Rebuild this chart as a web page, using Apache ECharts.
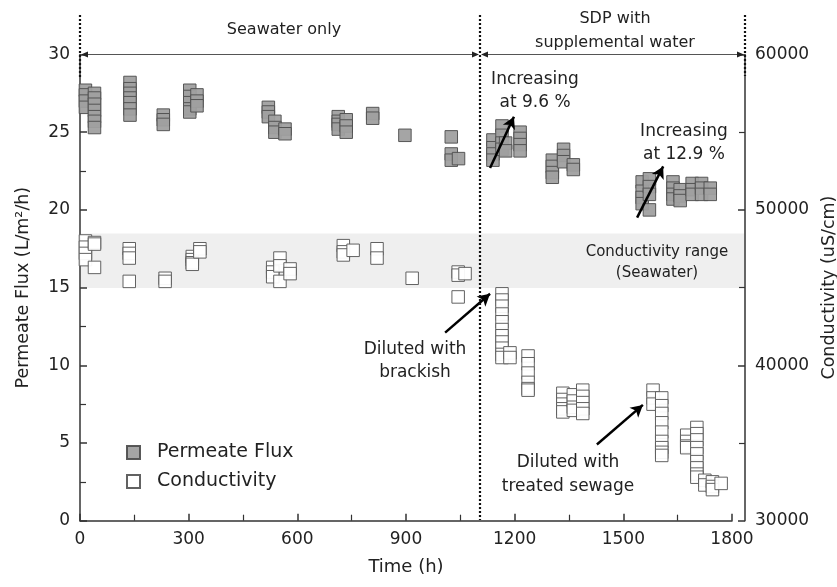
<!DOCTYPE html>
<html>
<head>
    <meta charset="utf-8">
    <title>Permeate flux and conductivity</title>
    <script src="https://cdn.jsdelivr.net/npm/echarts@6/dist/echarts.min.js"></script>
</head>
<body style="margin:0">
<div id="chart" style="width: 837px; height: 587px;"></div>
<script>
    // x axis ticks (h)
    var timeTicks = [0, 300, 600, 900, 1200, 1500, 1800];

    // permeate flux (L/m2/h)
    var fluxTime = [
        15, 15, 15, 15,
        40, 40, 40, 40, 40, 40, 40,
        138, 138, 138, 138, 138, 138, 138,
        230, 230, 230,
        303, 303, 303, 303, 303,
        323, 323, 323,
        520, 520, 520,
        538, 538, 538,
        566, 566,
        713, 713, 713, 713,
        735, 735, 735,
        808, 808,
        897,
        1025, 1025, 1025,
        1045,
        1140, 1140, 1140, 1140,
        1165, 1165, 1165, 1165,
        1175, 1175,
        1215, 1215, 1215, 1215,
        1304, 1304, 1304, 1304,
        1335, 1335, 1335,
        1362, 1362,
        1552, 1552, 1552, 1552,
        1572, 1572, 1572, 1572,
        1637, 1637, 1637, 1637,
        1657, 1657, 1657,
        1690, 1690, 1690,
        1716, 1716, 1716,
        1740, 1740
    ];
    var fluxValue = [
        27.7, 27.4, 27.0, 26.6,
        27.5, 27.2, 26.8, 26.4, 26.0, 25.7, 25.3,
        28.2, 27.8, 27.5, 27.2, 26.9, 26.5, 26.1,
        26.1, 25.8, 25.5,
        27.7, 27.3, 26.9, 26.5, 26.3,
        27.4, 27.0, 26.7,
        26.6, 26.3, 26.0,
        25.7, 25.3, 25.0,
        25.2, 24.9,
        26.0, 25.7, 25.5, 25.2,
        25.8, 25.4, 25.0,
        26.2, 25.9,
        24.8,
        24.7, 23.6, 23.2,
        23.3,
        24.5, 24.0, 23.6, 23.2,
        25.4, 24.8, 24.3, 23.9,
        24.3, 23.8,
        25.0, 24.6, 24.2, 23.8,
        23.2, 22.8, 22.4, 22.1,
        23.9, 23.5, 23.1,
        22.9, 22.6,
        21.8, 21.2, 20.8, 20.4,
        22.0, 21.5, 21.0, 20.0,
        21.8, 21.4, 21.0, 20.7,
        21.3, 20.9, 20.6,
        21.7, 21.3, 21.0,
        21.7, 21.4, 21.0,
        21.4, 21.0
    ];

    // conductivity (uS/cm)
    var condTime = [
        15, 15, 15, 15,
        40, 40, 40,
        136, 136, 136, 136,
        235, 235,
        310, 310, 310, 310,
        331, 331,
        532, 532, 532,
        552, 552, 552,
        580, 580,
        727, 727, 727,
        754,
        820, 820,
        917,
        1044, 1044, 1044,
        1063,
        1165, 1165, 1165, 1165, 1165, 1165, 1165, 1165, 1165, 1165, 1165,
        1187, 1187,
        1237, 1237, 1237, 1237, 1237, 1237,
        1333, 1333, 1333, 1333, 1333,
        1362, 1362, 1362, 1362,
        1388, 1388, 1388, 1388, 1388,
        1582, 1582, 1582,
        1606, 1606, 1606, 1606, 1606, 1606, 1606, 1606, 1606,
        1675, 1675, 1675, 1675,
        1703, 1703, 1703, 1703, 1703, 1703, 1703, 1703, 1703,
        1725, 1725,
        1746, 1746, 1746,
        1770
    ];
    var condValue = [
        48000, 47600, 47200, 46800,
        47900, 47800, 46300,
        47500, 47200, 46900, 45400,
        45600, 45400,
        47000, 46800, 46600, 46500,
        47500, 47300,
        46300, 46000, 45700,
        46900, 46400, 45400,
        46200, 45900,
        47700, 47300, 47100,
        47400,
        47500, 46900,
        45600,
        46000, 45800, 44400,
        45900,
        44600, 44200, 43800, 43300, 42800, 42300, 41900, 41500, 41100, 40700, 40500,
        40800, 40500,
        40600, 40100, 39500, 38900, 38500, 38400,
        38200, 37800, 37500, 37200, 37000,
        38100, 37700, 37300, 37100,
        38400, 38000, 37600, 37200, 36900,
        38400, 37900, 37500,
        37900, 37400, 36900, 36300, 35700, 35100, 34700, 34400, 34200,
        35500, 35100, 34800, 34700,
        36000, 35600, 35200, 34700, 34300, 33800, 33400, 33000, 32800,
        32600, 32300,
        32500, 32200, 32000,
        32400
    ];

    function zip(xs, ys) {
        return xs.map(function (x, i) { return [x, ys[i]]; });
    }

    var font = 'DejaVu Sans';
    var ink = '#222';

    // little helpers for the pixel decorations
    function dotted(x, y1, y2) {
        return {
            type: 'line', z: 10,
            shape: { x1: x, y1: y1, x2: x, y2: y2 },
            style: { stroke: '#111', lineWidth: 2.2, lineDash: [2, 2] }
        };
    }
    function head(x, y, dir) {
        return {
            type: 'polygon', z: 10,
            shape: { points: [[x, y], [x - dir * 7, y - 3], [x - dir * 7, y + 3]] },
            style: { fill: '#222' }
        };
    }
    function label(x, y, text, size) {
        return {
            type: 'text', z: 10, x: x, y: y,
            style: {
                text: text, fill: ink, font: (size || 16) + 'px "' + font + '"',
                align: 'center', verticalAlign: 'middle'
            }
        };
    }
    function plain(v) { return String(v); }

    var tickStyle = { color: '#333', width: 1.5 };

    function yAxisBase(extra) {
        return Object.assign({
            type: 'value',
            nameLocation: 'middle',
            nameTextStyle: { fontSize: 17.5, color: ink },
            axisLine: { show: true, lineStyle: tickStyle },
            axisTick: { inside: true, length: 7, lineStyle: tickStyle },
            minorTick: { show: true, splitNumber: 2, length: 6, lineStyle: { color: '#333', width: 1.2 } },
            axisLabel: { fontSize: 17, color: ink, margin: 10, formatter: plain },
            splitLine: { show: false }
        }, extra);
    }

    var myChart = echarts.init(document.getElementById('chart'));

    var option = {
        animation: false,
        textStyle: { fontFamily: font, color: ink },
        grid: { left: 80, right: 105, top: 54.5, bottom: 66.3, outerBoundsMode: 'none' },
        legend: {
            orient: 'vertical',
            left: 121, top: 438,
            itemWidth: 13, itemHeight: 13, itemGap: 10,
            icon: 'rect',
            textStyle: { fontSize: 19, color: ink, padding: [0, 0, 0, 12] },
            data: ['Permeate Flux', 'Conductivity']
        },
        xAxis: {
            type: 'value',
            min: timeTicks[0], max: timeTicks[timeTicks.length - 1], interval: 300,
            name: 'Time (h)', nameLocation: 'middle', nameGap: 38,
            nameTextStyle: { fontSize: 18, color: ink },
            axisLine: { lineStyle: tickStyle },
            axisTick: { inside: true, length: 7, lineStyle: tickStyle },
            minorTick: { show: true, splitNumber: 2, length: 6, lineStyle: { color: '#333', width: 1.2 } },
            axisLabel: { fontSize: 17, color: ink, margin: 10, formatter: plain },
            splitLine: { show: false }
        },
        yAxis: [
            yAxisBase({ min: 0, max: 30, interval: 5, name: 'Permeate Flux (L/m²/h)', nameGap: 48 }),
            yAxisBase({
                min: 30000, max: 60000, interval: 10000, position: 'right', offset: 13,
                name: 'Conductivity (uS/cm)', nameGap: 62
            })
        ],
        graphic: [
            // seawater conductivity band
            {
                type: 'rect', z: 0, silent: true,
                shape: { x: 81, y: 233.5, width: 663, height: 54.5 },
                style: { fill: '#efefef' }
            },
            dotted(80, 15, 78),
            dotted(480, 15, 520),
            dotted(745, 15, 76),
            { type: 'line', z: 10, shape: { x1: 82, y1: 54.5, x2: 478, y2: 54.5 }, style: { stroke: '#555', lineWidth: 1 } },
            { type: 'line', z: 10, shape: { x1: 482, y1: 54.5, x2: 743, y2: 54.5 }, style: { stroke: '#555', lineWidth: 1 } },
            head(81, 54.5, -1), head(479, 54.5, 1),
            head(481, 54.5, -1), head(744, 54.5, 1),
            label(284, 30, 'Seawater only'),
            label(615, 19, 'SDP with'),
            label(615, 43, 'supplemental water'),
            label(535, 80, 'Increasing', 17),
            label(535, 103, 'at 9.6 %', 17),
            label(684, 132, 'Increasing', 17),
            label(684, 155, 'at 12.9 %', 17),
            label(657, 252, 'Conductivity range', 15),
            label(657, 273, '(Seawater)', 15),
            label(415, 350, 'Diluted with', 17),
            label(415, 373, 'brackish', 17),
            label(568, 463, 'Diluted with', 17),
            label(568, 487, 'treated sewage', 17)
        ],
        series: [{
            name: 'Permeate Flux',
            type: 'scatter',
            yAxisIndex: 0,
            symbol: 'rect', symbolSize: 12.5,
            itemStyle: { color: '#a0a0a0', borderColor: '#505050', borderWidth: 1, opacity: 0.95 },
            data: zip(fluxTime, fluxValue),
            markLine: {
                silent: true, animation: false,
                symbol: ['none', 'arrow'], symbolSize: [10, 12],
                label: { show: false },
                lineStyle: { color: '#000', width: 2.5, type: 'solid' },
                data: [
                    [{ coord: [1132, 22.7] }, { coord: [1198, 26.0] }],
                    [{ coord: [1538, 19.5] }, { coord: [1610, 22.8] }],
                    [{ coord: [1008, 12.1] }, { coord: [1132, 14.6] }],
                    [{ coord: [1427, 4.9] }, { coord: [1554, 7.45] }]
                ]
            }
        }, {
            name: 'Conductivity',
            type: 'scatter',
            yAxisIndex: 1,
            symbol: 'rect', symbolSize: 12.5,
            itemStyle: { color: '#ffffff', borderColor: '#5a5a5a', borderWidth: 1, opacity: 0.95 },
            data: zip(condTime, condValue)
        }]
    };

    myChart.setOption(option);
</script>
</body>
</html>
